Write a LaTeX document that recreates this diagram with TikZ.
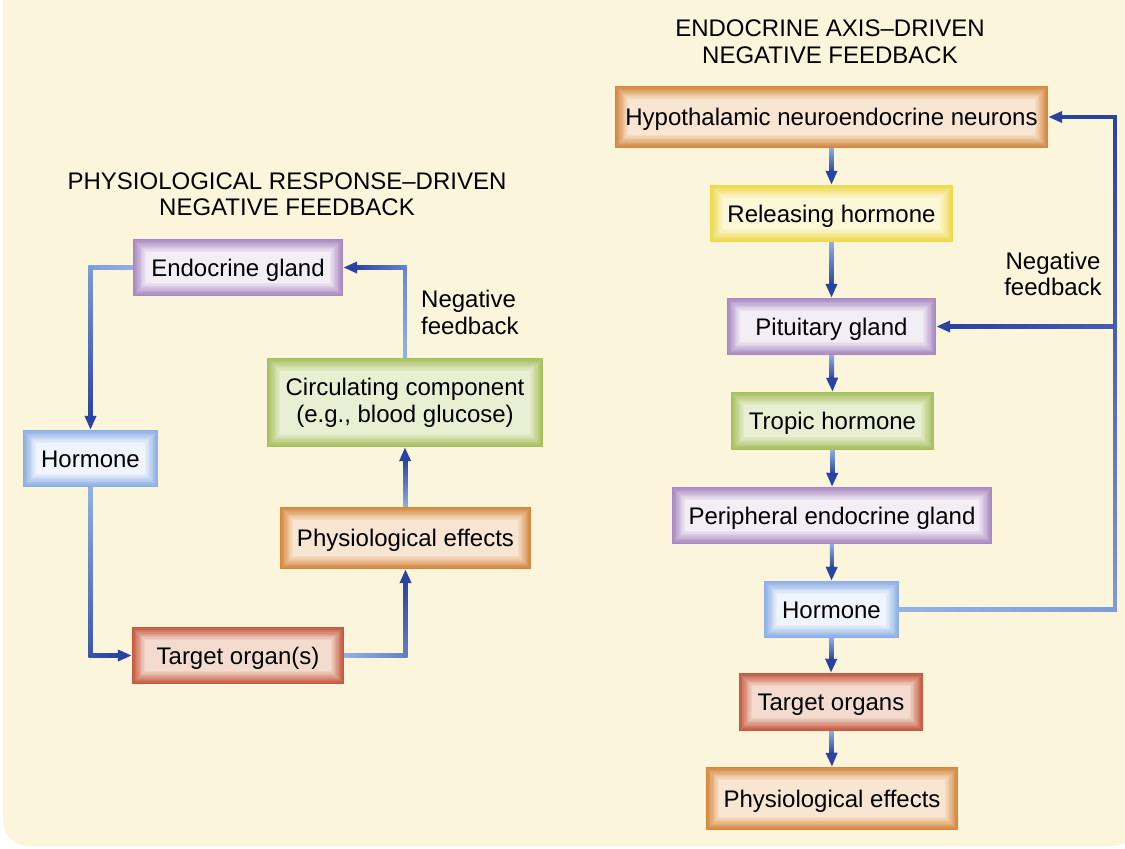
\documentclass[tikz,border=0pt]{standalone}
\usepackage{fontspec}
\setmainfont{Liberation Sans}
\usetikzlibrary{calc,arrows.meta}
\definecolor{bgc}{HTML}{FBF5DC}
\definecolor{clight}{HTML}{93B3E6}
\definecolor{cdark}{HTML}{2A43A0}
\definecolor{pout}{HTML}{A787BF}
\definecolor{pin}{HTML}{F3EDF6}
\definecolor{bout}{HTML}{8AAEE3}
\definecolor{bin}{HTML}{F0F5FD}
\definecolor{gout}{HTML}{A5BE5C}
\definecolor{gin}{HTML}{E9EFD2}
\definecolor{oout}{HTML}{D4863C}
\definecolor{oin}{HTML}{F8E6D2}
\definecolor{yout}{HTML}{EDD84C}
\definecolor{yin}{HTML}{FCF7D6}
\definecolor{rout}{HTML}{C4573E}
\definecolor{rin}{HTML}{F3DCCF}
\pgfdeclarelayer{bgl}\pgfdeclarelayer{cn}\pgfsetlayers{bgl,cn,main}
\tikzset{
  bev/.style 2 args={path picture={%
    \foreach \i in {0,...,10}{%
      \pgfmathsetmacro\p{\i*10}%
      \fill[#2!\p!#1] ([shift={({\i*1.3pt},{\i*1.3pt})}]path picture bounding box.south west) rectangle ([shift={({-\i*1.3pt},{-\i*1.3pt})}]path picture bounding box.north east);
    }}},
  box/.style={rectangle, inner sep=0pt, font=\fontsize{24}{27}\selectfont, align=center},
  sl/.style={text height=17.2pt, text depth=0pt},
  purp/.style={box, sl, bev={pout}{pin}},
  blu/.style={box, sl, bev={bout}{bin}},
  grn/.style={box, sl, bev={gout}{gin}},
  grntwo/.style={box, bev={gout}{gin}},
  orn/.style={box, sl, bev={oout}{oin}},
  yel/.style={box, sl, bev={yout}{yin}},
  redb/.style={box, sl, bev={rout}{rin}},
  lbl/.style={inner sep=0pt, font=\fontsize{24}{26.5}\selectfont},
  ttl/.style={inner sep=0pt, align=center, font=\fontsize{24}{26.5}\selectfont},
}
% gradient connector segment: from, to, start darkness, end darkness, shortening at end
\newcommand\gseg[5]{%
  \coordinate (gA) at (#1);
  \coordinate (gB) at ($(#2)!#5!(#1)$);
  \shade let \p1=(gA), \p2=(gB), \n1={atan2(\y2-\y1,\x2-\x1)} in
    [bottom color={cdark!#3!clight}, top color={cdark!#4!clight}, shading angle={\n1-90}]
    ({min(\x1,\x2)-1.9pt},{min(\y1,\y2)-1.9pt}) rectangle ({max(\x1,\x2)+1.9pt},{max(\y1,\y2)+1.9pt});
}
\newcommand\gtip[2]{%
  \draw[line width=3.8pt, cdark, line cap=butt, -{Triangle[length=14pt,width=11pt]}] ($(#2)!15pt!(#1)$) -- (#2);}
\begin{document}
\begin{tikzpicture}[x=1pt,y=-1pt]
\useasboundingbox (0,0) rectangle (1125,849);
\begin{pgfonlayer}{bgl}
\fill[bgc, rounded corners=25pt] (3,-30) rectangle (1137,846);
\fill[bgc] (3,-30) rectangle (1137,10);
\end{pgfonlayer}
% titles
\node[ttl] (t1) at (287,194) {PHYSIOLOGICAL RESPONSE–DRIVEN\\NEGATIVE FEEDBACK};
\node[ttl] (t2) at (830,41.5) {ENDOCRINE AXIS–DRIVEN\\NEGATIVE FEEDBACK};
% left boxes
\node[purp, minimum width=210pt, minimum height=57pt] (eg) at (238,267.5) {Endocrine gland};
\node[blu, minimum width=135pt, minimum height=57pt] (hl) at (90.5,458.5) {Hormone};
\node[grntwo, minimum width=276pt, minimum height=89pt] (ci) at (405,402.5) {Circulating component\\(e.g., blood glucose)};
\node[orn, minimum width=251pt, minimum height=62pt] (pe) at (405.5,538) {Physiological effects};
\node[redb, minimum width=212pt, minimum height=57pt] (tl) at (238,655.5) {Target organ(s)};
\node[lbl, align=left, anchor=west] (nf1) at (421,312.5) {Negative\\feedback};
% right boxes
\node[orn, minimum width=433pt, minimum height=62pt] (hy) at (831.5,117) {Hypothalamic neuroendocrine neurons};
\node[yel, minimum width=243pt, minimum height=57pt] (rh) at (831.5,213.5) {Releasing hormone};
\node[purp, minimum width=209pt, minimum height=57pt] (pg) at (831.5,326.5) {Pituitary gland};
\node[grn, minimum width=203pt, minimum height=58pt] (th) at (832.5,421) {Tropic hormone};
\node[purp, minimum width=320pt, minimum height=57pt] (pr) at (832,515.5) {Peripheral endocrine gland};
\node[blu, minimum width=135pt, minimum height=57pt] (h2) at (831.5,609.5) {Hormone};
\node[redb, minimum width=184pt, minimum height=58pt] (to) at (831,702) {Target organs};
\node[orn, minimum width=252pt, minimum height=63pt] (pf) at (832,798.5) {Physiological effects};
\node[lbl, align=center] (nf2) at (1053,274) {Negative\\feedback};
% corner coordinates
\coordinate (c1) at (hl.north |- eg.west);
\coordinate (c2) at (hl.south |- tl.west);
\coordinate (c3) at (pe.south |- tl.east);
\coordinate (c4) at (ci.north |- eg.east);
\coordinate (fx) at (1115,0);
\coordinate (c5) at (fx |- h2.east);
\coordinate (c6) at (fx |- pg.east);
\coordinate (c7) at (fx |- hy.east);
\begin{pgfonlayer}{cn}
% left connectors
\gseg{eg.west}{c1}{0}{20}{0pt}
\gseg{c1}{hl.north}{20}{100}{14pt}
\gtip{c1}{hl.north}
\gseg{hl.south}{c2}{0}{85}{0pt}
\gseg{c2}{tl.west}{85}{100}{14pt}
\gtip{c2}{tl.west}
\gseg{tl.east}{c3}{0}{45}{0pt}
\gseg{c3}{pe.south}{45}{100}{14pt}
\gtip{c3}{pe.south}
\gseg{pe.north}{ci.south}{0}{100}{14pt}
\gtip{pe.north}{ci.south}
\gseg{ci.north}{c4}{0}{40}{0pt}
\gseg{c4}{eg.east}{40}{100}{14pt}
\gtip{c4}{eg.east}
% right connectors
\gseg{hy.south}{rh.north}{0}{100}{14pt}\gtip{hy.south}{rh.north}
\gseg{rh.south}{pg.north}{0}{100}{14pt}\gtip{rh.south}{pg.north}
\gseg{pg.south}{th.north}{0}{100}{14pt}\gtip{pg.south}{th.north}
\gseg{th.south}{pr.north}{0}{100}{14pt}\gtip{th.south}{pr.north}
\gseg{pr.south}{h2.north}{0}{100}{14pt}\gtip{pr.south}{h2.north}
\gseg{h2.south}{to.north}{0}{100}{14pt}\gtip{h2.south}{to.north}
\gseg{to.south}{pf.north}{0}{100}{14pt}\gtip{to.south}{pf.north}
% feedback
\gseg{h2.east}{c5}{0}{20}{0pt}
\gseg{c5}{c6}{20}{75}{0pt}
\gseg{c6}{c7}{75}{100}{0pt}
\gseg{c7}{hy.east}{100}{100}{14pt}\gtip{c7}{hy.east}
\gseg{c6}{pg.east}{75}{100}{14pt}\gtip{c6}{pg.east}
\end{pgfonlayer}
\end{tikzpicture}
\end{document}
